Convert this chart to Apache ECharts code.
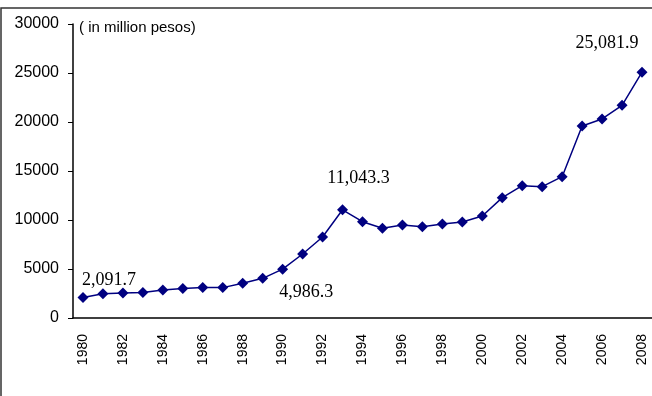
<!DOCTYPE html>
<html>
<head>
<meta charset="utf-8">
<script src="https://cdn.jsdelivr.net/npm/echarts@6/dist/echarts.min.js"></script>
<style>
  html, body { margin: 0; padding: 0; background: #fff; }
  #chart { width: 652px; height: 396px; }
</style>
</head>
<body>
<div id="chart"></div>
<script>
var years = ['1980', '1981', '1982', '1983', '1984', '1985', '1986', '1987', '1988', '1989',
  '1990', '1991', '1992', '1993', '1994', '1995', '1996', '1997', '1998', '1999',
  '2000', '2001', '2002', '2003', '2004', '2005', '2006', '2007', '2008']
var values = [2091.7, 2480, 2560, 2600, 2860, 3000, 3100, 3100, 3540, 4050,
  4986.3, 6530, 8270, 11043.3, 9830, 9150, 9490, 9320, 9590, 9800,
  10410, 12280, 13500, 13400, 14420, 19590, 20310, 21700, 25081.9]
// which points carry a value label
var labelled = ['1980', '1990', '1993', '2008']

function fmt (v) {
  return v.toLocaleString('en-US', {minimumFractionDigits: 1, maximumFractionDigits: 1})
}

// where each value label sits
var labelPlace = {
  '1980': {position: 'top', offset: [26, 2]},
  '1990': {position: 'right', offset: [-14, 23]},
  '1993': {position: 'top', offset: [16, -12]},
  '2008': {position: 'top', offset: [-35, -9]}
}

var seriesData = values.map(function (v, i) {
  var item = {value: v}
  if (labelled.indexOf(years[i]) >= 0) {
    var p = labelPlace[years[i]]
    item.label = {show: true, position: p.position, offset: p.offset}
  }
  return item
})

var chart = echarts.init(document.getElementById('chart'))
chart.setOption({
  animation: false,
  grid: {left: 73, top: 24, width: 580, height: 294},
  graphic: [{
    type: 'rect',
    shape: {x: 1, y: 8, width: 700, height: 420},
    style: {fill: 'none', stroke: '#333', lineWidth: 1.5},
    silent: true
  }, {
    type: 'text',
    left: 79,
    top: 20,
    style: {text: '( in million pesos)', font: '15px "Liberation Sans", Arial, sans-serif', fill: '#000'}
  }],
  xAxis: {
    type: 'category',
    data: years,
    boundaryGap: true,
    axisLine: {lineStyle: {color: '#000', width: 1.5}},
    axisTick: {interval: 0, length: 5, lineStyle: {color: '#000'}},
    axisLabel: {
      interval: 1,
      rotate: 90,
      margin: 16,
      color: '#000',
      fontSize: 14,
      fontFamily: '"Liberation Sans", Arial, sans-serif'
    },
    splitLine: {show: false}
  },
  yAxis: {
    type: 'value',
    min: 0,
    max: 30000,
    interval: 5000,
    axisLine: {show: true, lineStyle: {color: '#000', width: 1.5}},
    axisTick: {show: true, length: 5, lineStyle: {color: '#000'}},
    axisLabel: {
      margin: 14,
      color: '#000',
      fontSize: 16,
      fontFamily: '"Liberation Sans", Arial, sans-serif',
      formatter: function (v) { return String(v) }
    },
    splitLine: {show: false}
  },
  series: [{
    type: 'line',
    data: seriesData,
    symbol: 'diamond',
    symbolSize: 11,
    itemStyle: {color: '#000080'},
    lineStyle: {color: '#000080', width: 1.5},
    label: {
      show: false,
      formatter: function (p) { return fmt(p.value) },
      color: '#000',
      fontSize: 18,
      fontFamily: '"Liberation Serif", "Times New Roman", serif'
    }
  }]
})
</script>
</body>
</html>
